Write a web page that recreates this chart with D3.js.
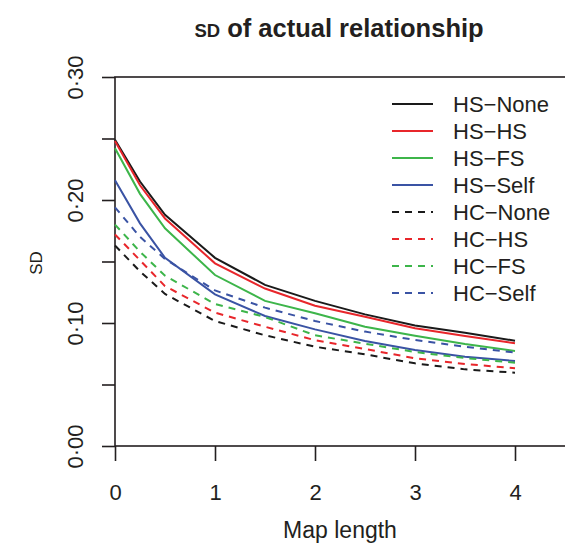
<!DOCTYPE html>
<html>
<head>
<meta charset="utf-8">
<script src="https://cdn.jsdelivr.net/npm/d3@7"></script>
<style>
  body { margin: 0; background: #fff; }
  svg text { font-family: "Liberation Sans", Arial, sans-serif; fill: #231f20; }
</style>
</head>
<body>
<svg id="chart" width="565" height="547"></svg>
<script>
// map length values where SD was evaluated
const mapLength = [0, 0.25, 0.5, 1, 1.5, 2, 2.5, 3, 3.5, 4];

const hsNone = [0.249, 0.215, 0.188, 0.153, 0.131, 0.118, 0.107, 0.098, 0.092, 0.0856];
const hsHS   = [0.248, 0.212, 0.185, 0.1485, 0.128, 0.114, 0.105, 0.0957, 0.0894, 0.0835];
const hsFS   = [0.242, 0.205, 0.177, 0.139, 0.118, 0.108, 0.097, 0.0897, 0.0829, 0.0772];
const hsSelf = [0.216, 0.181, 0.153, 0.1233, 0.1057, 0.0948, 0.0854, 0.078, 0.0726, 0.0691];
const hcNone = [0.163, 0.142, 0.1236, 0.1016, 0.090, 0.0807, 0.0745, 0.0672, 0.0623, 0.0596];
const hcHS   = [0.172, 0.151, 0.130, 0.1084, 0.097, 0.086, 0.0789, 0.0713, 0.0667, 0.0632];
const hcFS   = [0.180, 0.158, 0.1385, 0.1154, 0.1049, 0.090, 0.0832, 0.0764, 0.0715, 0.0677];
const hcSelf = [0.194, 0.170, 0.152, 0.1265, 0.1125, 0.1016, 0.093, 0.0862, 0.0807, 0.0759];

const seriesNames = ["HS\u2212None", "HS\u2212HS", "HS\u2212FS", "HS\u2212Self",
                     "HC\u2212None", "HC\u2212HS", "HC\u2212FS", "HC\u2212Self"];
const xTicks = [0, 1, 2, 3, 4];
const yTicks = [0, 0.05, 0.10, 0.15, 0.20, 0.25, 0.30];
const yLabelled = [0, 0.10, 0.20, 0.30];

const series = [
    { name: seriesNames[0], values: hsNone, color: "#1a1a1a", dashed: false },
    { name: seriesNames[1], values: hsHS,   color: "#e8262b", dashed: false },
    { name: seriesNames[2], values: hsFS,   color: "#3db54a", dashed: false },
    { name: seriesNames[3], values: hsSelf, color: "#3a53a4", dashed: false },
    { name: seriesNames[4], values: hcNone, color: "#1a1a1a", dashed: true },
    { name: seriesNames[5], values: hcHS,   color: "#e8262b", dashed: true },
    { name: seriesNames[6], values: hcFS,   color: "#3db54a", dashed: true },
    { name: seriesNames[7], values: hcSelf, color: "#3a53a4", dashed: true }
];

const svg = d3.select("#chart");
const ink = "#231f20";

const xScale = d3.scaleLinear().domain([0, 4.6]).range([115, 575]);
const yScale = d3.scaleLinear().domain([0, 0.30]).range([446, 77]);

// plot box (right side runs off the picture)
svg.append("rect")
    .attr("x", 115).attr("y", 77)
    .attr("width", 470).attr("height", 369)
    .attr("fill", "none").attr("stroke", ink).attr("stroke-width", 1.6);

// y axis
const fmt = v => d3.format(".2f")(v).replace(".", "\u00b7");
const yAxis = svg.append("g")
    .attr("transform", "translate(115,0)")
    .call(d3.axisLeft(yScale).tickValues(yTicks).tickSize(13)
        .tickFormat(v => yLabelled.some(l => Math.abs(l - v) < 1e-9) ? fmt(v) : ""));
yAxis.select(".domain").remove();
yAxis.selectAll(".tick line").attr("stroke", ink).attr("stroke-width", 1.6);
yAxis.selectAll(".tick text")
    .attr("x", 0).attr("dy", 0)
    .attr("transform", "translate(-32,0) rotate(-90)")
    .attr("text-anchor", "middle")
    .attr("font-size", 22)
    .style("fill", ink);

// x axis
const xAxis = svg.append("g")
    .attr("transform", "translate(0,446)")
    .call(d3.axisBottom(xScale).tickValues(xTicks).tickSize(15).tickFormat(d3.format("d")));
xAxis.select(".domain").remove();
xAxis.selectAll(".tick line").attr("stroke", ink).attr("stroke-width", 1.6);
xAxis.selectAll(".tick text")
    .attr("y", 54).attr("dy", 0)
    .attr("font-size", 22)
    .style("fill", ink);

// lines
const line = d3.line()
    .x((d, i) => xScale(mapLength[i]))
    .y(d => yScale(d));

svg.selectAll("path.series")
    .data(series)
    .enter()
    .append("path")
    .attr("class", "series")
    .attr("d", d => line(d.values))
    .attr("fill", "none")
    .attr("stroke", d => d.color)
    .attr("stroke-width", 2)
    .attr("stroke-dasharray", d => d.dashed ? "7,6" : null);

// legend (no frame)
const legend = svg.append("g");
series.forEach((s, i) => {
    const y = 104 + i * 27;
    legend.append("line")
        .attr("x1", 392).attr("x2", 433)
        .attr("y1", y).attr("y2", y)
        .attr("stroke", s.color).attr("stroke-width", 2)
        .attr("stroke-dasharray", s.dashed ? "7,6" : null);
    legend.append("text")
        .attr("x", 453).attr("y", y + 8)
        .attr("font-size", 22)
        .text(s.name);
});

// title
const title = svg.append("text")
    .attr("x", 339).attr("y", 37)
    .attr("text-anchor", "middle")
    .attr("font-weight", "bold")
    .attr("font-size", 25.5);
title.append("tspan").attr("font-size", 18.5).text("SD");
title.append("tspan").text(" of actual relationship");

// axis titles
svg.append("text")
    .attr("x", 340).attr("y", 538)
    .attr("text-anchor", "middle")
    .attr("font-size", 23)
    .text("Map length");

svg.append("text")
    .attr("transform", "translate(42,263) rotate(-90)")
    .attr("text-anchor", "middle")
    .attr("font-size", 17)
    .text("SD");
</script>
</body>
</html>
